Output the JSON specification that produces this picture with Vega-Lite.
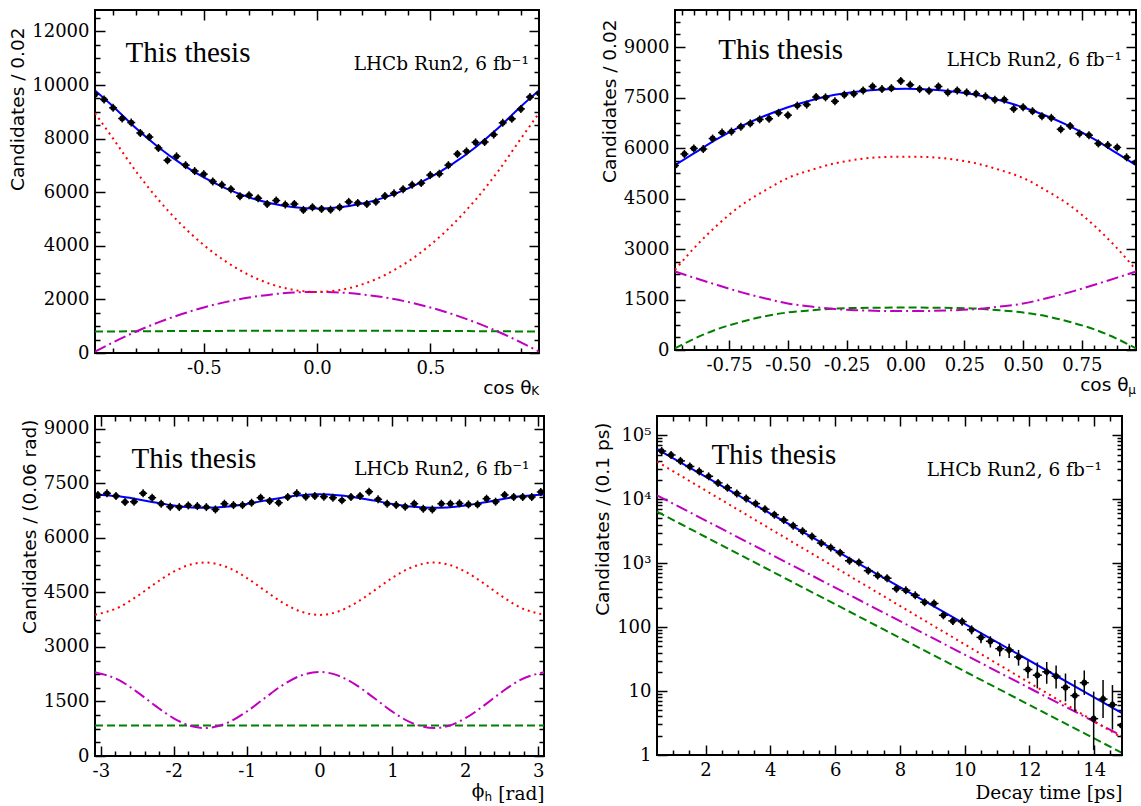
{
"$schema": "https://vega.github.io/schema/vega-lite/v6.json",
"padding": {"left": 7, "top": 8, "right": 5, "bottom": 5},
"background": "white",
"spacing": 16,
"config": {
  "view": {"stroke": "black", "strokeWidth": 2},
  "axis": {"domain": false, "grid": false, "labelFont": "DejaVu Serif", "labelFontSize": 18, "labelColor": "black", "tickColor": "black", "tickWidth": 1.5, "titleFont": "DejaVu Sans", "titleFontSize": 18.5, "titleFontWeight": "normal", "titleColor": "black", "labelFlush": false, "labelOverlap": false, "labelBound": false, "labelPadding": 16, "titlePadding": 4},
  "text": {"color": "black"}
},
"datasets": {
  "p1": [{"x":-0.98,"y":9650},{"x":-0.94,"y":9460},{"x":-0.90,"y":9150},{"x":-0.86,"y":8750},{"x":-0.82,"y":8600},{"x":-0.78,"y":8210},{"x":-0.74,"y":8060},{"x":-0.70,"y":7650},{"x":-0.66,"y":7190},{"x":-0.62,"y":7340},{"x":-0.58,"y":7010},{"x":-0.54,"y":6790},{"x":-0.50,"y":6675},{"x":-0.46,"y":6400},{"x":-0.42,"y":6275},{"x":-0.38,"y":6110},{"x":-0.34,"y":5850},{"x":-0.30,"y":5890},{"x":-0.26,"y":5775},{"x":-0.22,"y":5560},{"x":-0.18,"y":5690},{"x":-0.14,"y":5540},{"x":-0.10,"y":5560},{"x":-0.06,"y":5340},{"x":-0.02,"y":5440},{"x":0.02,"y":5375},{"x":0.06,"y":5350},{"x":0.10,"y":5440},{"x":0.14,"y":5640},{"x":0.18,"y":5600},{"x":0.22,"y":5560},{"x":0.26,"y":5640},{"x":0.30,"y":5860},{"x":0.34,"y":5960},{"x":0.38,"y":6110},{"x":0.42,"y":6275},{"x":0.46,"y":6340},{"x":0.50,"y":6640},{"x":0.54,"y":6690},{"x":0.58,"y":7010},{"x":0.62,"y":7425},{"x":0.66,"y":7525},{"x":0.70,"y":7860},{"x":0.74,"y":7875},{"x":0.78,"y":8150},{"x":0.82,"y":8590},{"x":0.86,"y":8740},{"x":0.90,"y":9110},{"x":0.94,"y":9550},{"x":0.98,"y":9690}],
  "f1": [{"x":-0.98,"t":9800,"r":8950,"m":50,"g":800},{"x":-0.9,"t":9203,"r":8000,"m":398,"g":805},{"x":-0.8,"t":8393,"r":6790,"m":793,"g":810},{"x":-0.7,"t":7677,"r":5720,"m":1142,"g":815},{"x":-0.6,"t":7064,"r":4800,"m":1444,"g":820},{"x":-0.5,"t":6553,"r":4030,"m":1700,"g":823},{"x":-0.4,"t":6134,"r":3400,"m":1908,"g":826},{"x":-0.3,"t":5809,"r":2910,"m":2071,"g":828},{"x":-0.2,"t":5577,"r":2560,"m":2187,"g":830},{"x":-0.1,"t":5438,"r":2350,"m":2257,"g":831},{"x":0,"t":5391,"r":2280,"m":2280,"g":831},{"x":0.1,"t":5438,"r":2350,"m":2257,"g":831},{"x":0.2,"t":5577,"r":2560,"m":2187,"g":830},{"x":0.3,"t":5809,"r":2910,"m":2071,"g":828},{"x":0.4,"t":6134,"r":3400,"m":1908,"g":826},{"x":0.5,"t":6553,"r":4030,"m":1700,"g":823},{"x":0.6,"t":7064,"r":4800,"m":1444,"g":820},{"x":0.7,"t":7677,"r":5720,"m":1142,"g":815},{"x":0.8,"t":8393,"r":6790,"m":793,"g":810},{"x":0.9,"t":9203,"r":8000,"m":398,"g":805},{"x":0.98,"t":9800,"r":8950,"m":50,"g":800}],
  "p2": [{"x":-0.98,"y":5480},{"x":-0.94,"y":5822},{"x":-0.90,"y":5988},{"x":-0.86,"y":5969},{"x":-0.82,"y":6282},{"x":-0.78,"y":6458},{"x":-0.74,"y":6488},{"x":-0.70,"y":6634},{"x":-0.66,"y":6732},{"x":-0.62,"y":6850},{"x":-0.58,"y":6869},{"x":-0.54,"y":7045},{"x":-0.50,"y":6976},{"x":-0.46,"y":7260},{"x":-0.42,"y":7290},{"x":-0.38,"y":7515},{"x":-0.34,"y":7505},{"x":-0.30,"y":7388},{"x":-0.26,"y":7583},{"x":-0.22,"y":7613},{"x":-0.18,"y":7710},{"x":-0.14,"y":7828},{"x":-0.10,"y":7750},{"x":-0.06,"y":7779},{"x":-0.02,"y":7994},{"x":0.02,"y":7877},{"x":0.06,"y":7750},{"x":0.10,"y":7700},{"x":0.14,"y":7828},{"x":0.18,"y":7652},{"x":0.22,"y":7710},{"x":0.26,"y":7652},{"x":0.30,"y":7613},{"x":0.34,"y":7535},{"x":0.38,"y":7437},{"x":0.42,"y":7437},{"x":0.46,"y":7163},{"x":0.50,"y":7212},{"x":0.54,"y":7094},{"x":0.58,"y":6947},{"x":0.62,"y":6898},{"x":0.66,"y":6556},{"x":0.70,"y":6654},{"x":0.74,"y":6429},{"x":0.78,"y":6380},{"x":0.82,"y":6135},{"x":0.86,"y":6086},{"x":0.90,"y":6018},{"x":0.94,"y":5724},{"x":0.98,"y":5577}],
  "f2": [{"x":-0.98,"t":5490,"r":2380,"m":2330,"g":50},{"x":-0.9,"t":5840,"r":3020,"m":2150,"g":330},{"x":-0.8,"t":6270,"r":3710,"m":1930,"g":620},{"x":-0.7,"t":6640,"r":4290,"m":1720,"g":830},{"x":-0.6,"t":6950,"r":4730,"m":1540,"g":1000},{"x":-0.5,"t":7210,"r":5110,"m":1380,"g":1115},{"x":-0.4,"t":7420,"r":5350,"m":1290,"g":1180},{"x":-0.3,"t":7580,"r":5545,"m":1215,"g":1230},{"x":-0.2,"t":7680,"r":5665,"m":1180,"g":1250},{"x":-0.1,"t":7740,"r":5730,"m":1160,"g":1258},{"x":0,"t":7760,"r":5744,"m":1155,"g":1262},{"x":0.1,"t":7740,"r":5730,"m":1160,"g":1258},{"x":0.2,"t":7680,"r":5665,"m":1180,"g":1250},{"x":0.3,"t":7580,"r":5545,"m":1215,"g":1230},{"x":0.4,"t":7420,"r":5350,"m":1290,"g":1180},{"x":0.5,"t":7210,"r":5110,"m":1380,"g":1115},{"x":0.6,"t":6950,"r":4730,"m":1540,"g":1000},{"x":0.7,"t":6640,"r":4290,"m":1720,"g":830},{"x":0.8,"t":6270,"r":3710,"m":1930,"g":620},{"x":0.9,"t":5840,"r":3020,"m":2150,"g":330},{"x":0.98,"t":5490,"r":2380,"m":2330,"g":50}],
  "p3": [{"x":-3.04,"y":7178},{"x":-2.916,"y":7224},{"x":-2.792,"y":7150},{"x":-2.668,"y":6984},{"x":-2.544,"y":6993},{"x":-2.42,"y":7224},{"x":-2.296,"y":7104},{"x":-2.172,"y":6938},{"x":-2.048,"y":6854},{"x":-1.924,"y":6845},{"x":-1.8,"y":6891},{"x":-1.676,"y":6873},{"x":-1.552,"y":6845},{"x":-1.428,"y":6780},{"x":-1.304,"y":6938},{"x":-1.18,"y":6900},{"x":-1.056,"y":6900},{"x":-0.932,"y":6965},{"x":-0.808,"y":7104},{"x":-0.684,"y":7012},{"x":-0.56,"y":6965},{"x":-0.436,"y":7123},{"x":-0.312,"y":7224},{"x":-0.188,"y":7132},{"x":-0.064,"y":7150},{"x":0.06,"y":7132},{"x":0.184,"y":7104},{"x":0.308,"y":7030},{"x":0.432,"y":7123},{"x":0.556,"y":7150},{"x":0.68,"y":7270},{"x":0.804,"y":7058},{"x":0.928,"y":6938},{"x":1.052,"y":6900},{"x":1.176,"y":6854},{"x":1.3,"y":6938},{"x":1.424,"y":6799},{"x":1.548,"y":6780},{"x":1.672,"y":6938},{"x":1.796,"y":6938},{"x":1.92,"y":6947},{"x":2.044,"y":6919},{"x":2.168,"y":6919},{"x":2.292,"y":7076},{"x":2.416,"y":6993},{"x":2.54,"y":7178},{"x":2.664,"y":7123},{"x":2.788,"y":7123},{"x":2.912,"y":7123},{"x":3.036,"y":7261}],
  "f3": [{"x":-3.08,"t":7194,"r":3885,"m":2304,"g":840},{"x":-2.75,"t":7141,"r":4090,"m":2086,"g":840},{"x":-2.5,"t":7062,"r":4396,"m":1758,"g":840},{"x":-2.25,"t":6971,"r":4752,"m":1378,"g":840},{"x":-2.0,"t":6889,"r":5071,"m":1037,"g":840},{"x":-1.75,"t":6837,"r":5274,"m":819,"g":840},{"x":-1.57,"t":6825,"r":5320,"m":770,"g":840},{"x":-1.25,"t":6862,"r":5177,"m":923,"g":840},{"x":-1.0,"t":6933,"r":4900,"m":1220,"g":840},{"x":-0.75,"t":7023,"r":4549,"m":1594,"g":840},{"x":-0.5,"t":7110,"r":4211,"m":1956,"g":840},{"x":-0.25,"t":7172,"r":3968,"m":2216,"g":840},{"x":0,"t":7195,"r":3880,"m":2310,"g":840},{"x":0.25,"t":7172,"r":3968,"m":2216,"g":840},{"x":0.5,"t":7110,"r":4211,"m":1956,"g":840},{"x":0.75,"t":7023,"r":4549,"m":1594,"g":840},{"x":1.0,"t":6933,"r":4900,"m":1220,"g":840},{"x":1.25,"t":6862,"r":5177,"m":923,"g":840},{"x":1.57,"t":6825,"r":5320,"m":770,"g":840},{"x":1.75,"t":6837,"r":5274,"m":819,"g":840},{"x":2.0,"t":6889,"r":5071,"m":1037,"g":840},{"x":2.25,"t":6971,"r":4752,"m":1378,"g":840},{"x":2.5,"t":7062,"r":4396,"m":1758,"g":840},{"x":2.75,"t":7141,"r":4090,"m":2086,"g":840},{"x":3.08,"t":7194,"r":3885,"m":2304,"g":840}],
  "p4": [{"x":0.645,"y":56600},{"x":0.935,"y":49200},{"x":1.225,"y":39700},{"x":1.515,"y":32500},{"x":1.805,"y":27200},{"x":2.095,"y":22800},{"x":2.385,"y":18000},{"x":2.675,"y":15100},{"x":2.965,"y":12300},{"x":3.255,"y":10300},{"x":3.545,"y":8530},{"x":3.835,"y":6980},{"x":4.125,"y":5710},{"x":4.415,"y":4720},{"x":4.705,"y":3860},{"x":4.995,"y":3160},{"x":5.285,"y":2610},{"x":5.575,"y":2060},{"x":5.865,"y":1750},{"x":6.155,"y":1460},{"x":6.445,"y":1090},{"x":6.735,"y":1026},{"x":7.025,"y":763},{"x":7.315,"y":640},{"x":7.605,"y":582},{"x":7.895,"y":398},{"x":8.185,"y":376},{"x":8.475,"y":314},{"x":8.765,"y":245},{"x":9.055,"y":234},{"x":9.345,"y":153,"lo":135,"hi":172},{"x":9.635,"y":125,"lo":108,"hi":142},{"x":9.925,"y":122,"lo":106,"hi":139},{"x":10.215,"y":91,"lo":77,"hi":106},{"x":10.505,"y":69,"lo":56,"hi":82},{"x":10.795,"y":60,"lo":48,"hi":72},{"x":11.085,"y":46,"lo":35,"hi":57},{"x":11.375,"y":44,"lo":33,"hi":55},{"x":11.665,"y":34,"lo":25,"hi":44},{"x":11.955,"y":21.7,"lo":15.8,"hi":30},{"x":12.245,"y":17.7,"lo":11,"hi":28},{"x":12.535,"y":20,"lo":13,"hi":28.5},{"x":12.825,"y":17.1,"lo":11,"hi":25},{"x":13.115,"y":11.4,"lo":6.9,"hi":18.8},{"x":13.405,"y":8.5,"lo":4.8,"hi":14.9},{"x":13.695,"y":13.5,"lo":8.7,"hi":21},{"x":13.985,"y":3.7,"lo":1.2,"hi":9.8},{"x":14.275,"y":7.5,"lo":3.8,"hi":14.9},{"x":14.565,"y":6.1,"lo":2.5,"hi":12.4},{"x":14.855,"y":2.9,"lo":1,"hi":7}],
  "f4": [{"x":0.5,"t":60700,"r":38700,"m":11500,"g":6380},{"x":7.5,"t":589,"r":304,"m":168,"g":92},{"x":14.86,"t":4.5,"r":1.86,"m":1.98,"g":1.08}]
},
"vconcat": [
 {"hconcat": [
  {"width": 444, "height": 343,
   "resolve": {"axis": {"x": "independent", "y": "independent"}},
   "layer": [
    {"data": {"name": "f1"}, "mark": {"type": "line", "stroke": "#008000", "strokeWidth": 2, "strokeDash": [8, 4], "interpolate": "monotone", "clip": true},
     "encoding": {
      "x": {"field": "x", "type": "quantitative", "scale": {"domain": [-0.98, 0.98], "nice": false, "zero": false},
        "axis": {"orient": "bottom", "values": [-0.9,-0.8,-0.7,-0.6,-0.5,-0.4,-0.3,-0.2,-0.1,0,0.1,0.2,0.3,0.4,0.5,0.6,0.7,0.8,0.9],
          "labelExpr": "abs(datum.value*2-round(datum.value*2))<0.001 ? replace(format(datum.value,'.1f'),'−','-') : ''",
          "tickSize": {"condition": {"test": "abs(datum.value*2-round(datum.value*2))<0.001", "value": -10}, "value": -5},
          "title": "cos θ", "titleFont": "DejaVu Sans", "titlePadding": -4, "titleAnchor": "end", "titleAlign": "right", "titleX": 436}},
      "y": {"field": "g", "type": "quantitative", "scale": {"domain": [0, 12800], "nice": false, "zero": false},
        "axis": {"orient": "left", "values": [0,500,1000,1500,2000,2500,3000,3500,4000,4500,5000,5500,6000,6500,7000,7500,8000,8500,9000,9500,10000,10500,11000,11500,12000,12500],
          "labelExpr": "datum.value%2000==0 ? format(datum.value,'d') : ''",
          "tickSize": {"condition": {"test": "datum.value%2000==0", "value": -10}, "value": -5},
          "title": "Candidates / 0.02", "titleAnchor": "end", "titleAlign": "right", "titleY": 17}}
     }},
    {"data": {"name": "f1"}, "mark": {"type": "line", "stroke": "#bf00bf", "strokeWidth": 2, "strokeDash": [12, 4, 2, 4], "interpolate": "monotone", "clip": true},
     "encoding": {
      "x": {"field": "x", "type": "quantitative",
        "axis": {"orient": "top", "values": [-0.9,-0.8,-0.7,-0.6,-0.5,-0.4,-0.3,-0.2,-0.1,0,0.1,0.2,0.3,0.4,0.5,0.6,0.7,0.8,0.9], "labels": false, "title": null,
          "tickSize": {"condition": {"test": "abs(datum.value*2-round(datum.value*2))<0.001", "value": -10}, "value": -5}}},
      "y": {"field": "m", "type": "quantitative",
        "axis": {"orient": "right", "values": [0,500,1000,1500,2000,2500,3000,3500,4000,4500,5000,5500,6000,6500,7000,7500,8000,8500,9000,9500,10000,10500,11000,11500,12000,12500], "labels": false, "title": null,
          "tickSize": {"condition": {"test": "datum.value%2000==0", "value": -10}, "value": -5}}}
     }},
    {"data": {"name": "f1"}, "mark": {"type": "line", "stroke": "#ff0000", "strokeWidth": 2, "strokeDash": [2, 4], "interpolate": "monotone", "clip": true},
     "encoding": {"x": {"field": "x", "type": "quantitative", "axis": null}, "y": {"field": "r", "type": "quantitative", "axis": null}}},
    {"data": {"name": "f1"}, "mark": {"type": "line", "stroke": "#0000ff", "strokeWidth": 2, "interpolate": "monotone", "clip": true},
     "encoding": {"x": {"field": "x", "type": "quantitative", "axis": null}, "y": {"field": "t", "type": "quantitative", "axis": null}}},
    {"data": {"name": "p1"}, "mark": {"type": "point", "shape": "stroke", "size": 64, "stroke": "black", "strokeWidth": 1.5, "opacity": 1, "clip": true},
     "encoding": {"x": {"field": "x", "type": "quantitative", "axis": null}, "y": {"field": "y", "type": "quantitative", "axis": null}}},
    {"data": {"name": "p1"}, "mark": {"type": "point", "shape": "M0,-1L0,1", "size": 64, "stroke": "black", "strokeWidth": 1.5, "opacity": 1, "clip": true},
     "encoding": {"x": {"field": "x", "type": "quantitative", "axis": null}, "y": {"field": "y", "type": "quantitative", "axis": null}}},
    {"data": {"name": "p1"}, "mark": {"type": "circle", "size": 34, "fill": "black", "opacity": 1, "clip": true},
     "encoding": {"x": {"field": "x", "type": "quantitative", "axis": null}, "y": {"field": "y", "type": "quantitative", "axis": null}}},
    {"data": {"values": [{"t": "This thesis"}]}, "mark": {"type": "text", "font": "Liberation Serif", "fontSize": 29, "align": "left", "baseline": "alphabetic"},
     "encoding": {"text": {"field": "t"}, "x": {"datum": -0.845, "type": "quantitative", "axis": null}, "y": {"datum": 10870, "type": "quantitative", "axis": null}}},
    {"data": {"values": [{"t": "LHCb Run2, 6 fb⁻¹"}]}, "mark": {"type": "text", "font": "DejaVu Serif", "fontSize": 18.5, "align": "right", "baseline": "alphabetic"},
     "encoding": {"text": {"field": "t"}, "x": {"datum": 0.935, "type": "quantitative", "axis": null}, "y": {"datum": 10550, "type": "quantitative", "axis": null}}},
    {"data": {"values": [{"t": "K"}]}, "mark": {"type": "text", "font": "DejaVu Sans", "fontSize": 12, "align": "right", "baseline": "alphabetic"},
     "encoding": {"text": {"field": "t"}, "x": {"datum": 0.98, "type": "quantitative", "axis": null}, "y": {"datum": -1565, "type": "quantitative", "axis": null}}}
   ]},
  {"width": 461, "height": 340,
   "resolve": {"axis": {"x": "independent", "y": "independent"}},
   "layer": [
    {"data": {"name": "f2"}, "mark": {"type": "line", "stroke": "#008000", "strokeWidth": 2, "strokeDash": [8, 4], "interpolate": "monotone", "clip": true},
     "encoding": {
      "x": {"field": "x", "type": "quantitative", "scale": {"domain": [-0.98, 0.98], "nice": false, "zero": false},
        "axis": {"orient": "bottom", "values": [-0.95,-0.9,-0.85,-0.8,-0.75,-0.7,-0.65,-0.6,-0.55,-0.5,-0.45,-0.4,-0.35,-0.3,-0.25,-0.2,-0.15,-0.1,-0.05,0,0.05,0.1,0.15,0.2,0.25,0.3,0.35,0.4,0.45,0.5,0.55,0.6,0.65,0.7,0.75,0.8,0.85,0.9,0.95],
          "labelExpr": "abs(datum.value*4-round(datum.value*4))<0.001 ? replace(format(datum.value,'.2f'),'−','-') : ''",
          "tickSize": {"condition": {"test": "abs(datum.value*4-round(datum.value*4))<0.001", "value": -10}, "value": -5},
          "title": "cos θ", "titleFont": "DejaVu Sans", "titlePadding": -4, "titleAnchor": "end", "titleAlign": "right", "titleX": 453}},
      "y": {"field": "g", "type": "quantitative", "scale": {"domain": [0, 10100], "nice": false, "zero": false},
        "axis": {"orient": "left", "values": [0,375,750,1125,1500,1875,2250,2625,3000,3375,3750,4125,4500,4875,5250,5625,6000,6375,6750,7125,7500,7875,8250,8625,9000,9375,9750],
          "labelExpr": "datum.value%1500==0 ? format(datum.value,'d') : ''",
          "tickSize": {"condition": {"test": "datum.value%1500==0", "value": -10}, "value": -5},
          "title": "Candidates / 0.02", "titleAnchor": "end", "titleAlign": "right", "titleY": 9}}
     }},
    {"data": {"name": "f2"}, "mark": {"type": "line", "stroke": "#bf00bf", "strokeWidth": 2, "strokeDash": [12, 4, 2, 4], "interpolate": "monotone", "clip": true},
     "encoding": {
      "x": {"field": "x", "type": "quantitative",
        "axis": {"orient": "top", "values": [-0.95,-0.9,-0.85,-0.8,-0.75,-0.7,-0.65,-0.6,-0.55,-0.5,-0.45,-0.4,-0.35,-0.3,-0.25,-0.2,-0.15,-0.1,-0.05,0,0.05,0.1,0.15,0.2,0.25,0.3,0.35,0.4,0.45,0.5,0.55,0.6,0.65,0.7,0.75,0.8,0.85,0.9,0.95], "labels": false, "title": null,
          "tickSize": {"condition": {"test": "abs(datum.value*4-round(datum.value*4))<0.001", "value": -10}, "value": -5}}},
      "y": {"field": "m", "type": "quantitative",
        "axis": {"orient": "right", "values": [0,375,750,1125,1500,1875,2250,2625,3000,3375,3750,4125,4500,4875,5250,5625,6000,6375,6750,7125,7500,7875,8250,8625,9000,9375,9750], "labels": false, "title": null,
          "tickSize": {"condition": {"test": "datum.value%1500==0", "value": -10}, "value": -5}}}
     }},
    {"data": {"name": "f2"}, "mark": {"type": "line", "stroke": "#ff0000", "strokeWidth": 2, "strokeDash": [2, 4], "interpolate": "monotone", "clip": true},
     "encoding": {"x": {"field": "x", "type": "quantitative", "axis": null}, "y": {"field": "r", "type": "quantitative", "axis": null}}},
    {"data": {"name": "f2"}, "mark": {"type": "line", "stroke": "#0000ff", "strokeWidth": 2, "interpolate": "monotone", "clip": true},
     "encoding": {"x": {"field": "x", "type": "quantitative", "axis": null}, "y": {"field": "t", "type": "quantitative", "axis": null}}},
    {"data": {"name": "p2"}, "mark": {"type": "point", "shape": "stroke", "size": 64, "stroke": "black", "strokeWidth": 1.5, "opacity": 1, "clip": true},
     "encoding": {"x": {"field": "x", "type": "quantitative", "axis": null}, "y": {"field": "y", "type": "quantitative", "axis": null}}},
    {"data": {"name": "p2"}, "mark": {"type": "point", "shape": "M0,-1L0,1", "size": 64, "stroke": "black", "strokeWidth": 1.5, "opacity": 1, "clip": true},
     "encoding": {"x": {"field": "x", "type": "quantitative", "axis": null}, "y": {"field": "y", "type": "quantitative", "axis": null}}},
    {"data": {"name": "p2"}, "mark": {"type": "circle", "size": 34, "fill": "black", "opacity": 1, "clip": true},
     "encoding": {"x": {"field": "x", "type": "quantitative", "axis": null}, "y": {"field": "y", "type": "quantitative", "axis": null}}},
    {"data": {"values": [{"t": "This thesis"}]}, "mark": {"type": "text", "font": "Liberation Serif", "fontSize": 29, "align": "left", "baseline": "alphabetic"},
     "encoding": {"text": {"field": "t"}, "x": {"datum": -0.796, "type": "quantitative", "axis": null}, "y": {"datum": 8648, "type": "quantitative", "axis": null}}},
    {"data": {"values": [{"t": "LHCb Run2, 6 fb⁻¹"}]}, "mark": {"type": "text", "font": "DejaVu Serif", "fontSize": 18.5, "align": "right", "baseline": "alphabetic"},
     "encoding": {"text": {"field": "t"}, "x": {"datum": 0.92, "type": "quantitative", "axis": null}, "y": {"datum": 8437, "type": "quantitative", "axis": null}}},
    {"data": {"values": [{"t": "μ"}]}, "mark": {"type": "text", "font": "DejaVu Sans", "fontSize": 12, "align": "right", "baseline": "alphabetic"},
     "encoding": {"text": {"field": "t"}, "x": {"datum": 0.98, "type": "quantitative", "axis": null}, "y": {"datum": -1307, "type": "quantitative", "axis": null}}}
   ]}
 ], "spacing": 136, "bounds": "flush"},
 {"hconcat": [
  {"width": 449, "height": 340,
   "resolve": {"axis": {"x": "independent", "y": "independent"}},
   "layer": [
    {"data": {"name": "f3"}, "mark": {"type": "line", "stroke": "#008000", "strokeWidth": 2, "strokeDash": [8, 4], "interpolate": "monotone", "clip": true},
     "encoding": {
      "x": {"field": "x", "type": "quantitative", "scale": {"domain": [-3.08, 3.08], "nice": false, "zero": false},
        "axis": {"orient": "bottom", "values": [-3,-2.8,-2.6,-2.4,-2.2,-2,-1.8,-1.6,-1.4,-1.2,-1,-0.8,-0.6,-0.4,-0.2,0,0.2,0.4,0.6,0.8,1,1.2,1.4,1.6,1.8,2,2.2,2.4,2.6,2.8,3],
          "labelExpr": "abs(datum.value-round(datum.value))<0.001 ? replace(format(round(datum.value),'d'),'−','-') : ''",
          "tickSize": {"condition": {"test": "abs(datum.value-round(datum.value))<0.001", "value": -10}, "value": -5},
          "title": "[rad]", "titleFont": "DejaVu Serif", "titlePadding": -1, "titleAnchor": "end"}},
      "y": {"field": "g", "type": "quantitative", "scale": {"domain": [0, 9350], "nice": false, "zero": false},
        "axis": {"orient": "left", "values": [0,375,750,1125,1500,1875,2250,2625,3000,3375,3750,4125,4500,4875,5250,5625,6000,6375,6750,7125,7500,7875,8250,8625,9000],
          "labelExpr": "datum.value%1500==0 ? format(datum.value,'d') : ''",
          "tickSize": {"condition": {"test": "datum.value%1500==0", "value": -10}, "value": -5},
          "title": "Candidates / (0.06 rad)", "titleAnchor": "end", "titleAlign": "right", "titleY": 3}}
     }},
    {"data": {"name": "f3"}, "mark": {"type": "line", "stroke": "#bf00bf", "strokeWidth": 2, "strokeDash": [12, 4, 2, 4], "interpolate": "monotone", "clip": true},
     "encoding": {
      "x": {"field": "x", "type": "quantitative",
        "axis": {"orient": "top", "values": [-3,-2.8,-2.6,-2.4,-2.2,-2,-1.8,-1.6,-1.4,-1.2,-1,-0.8,-0.6,-0.4,-0.2,0,0.2,0.4,0.6,0.8,1,1.2,1.4,1.6,1.8,2,2.2,2.4,2.6,2.8,3], "labels": false, "title": null,
          "tickSize": {"condition": {"test": "abs(datum.value-round(datum.value))<0.001", "value": -10}, "value": -5}}},
      "y": {"field": "m", "type": "quantitative",
        "axis": {"orient": "right", "values": [0,375,750,1125,1500,1875,2250,2625,3000,3375,3750,4125,4500,4875,5250,5625,6000,6375,6750,7125,7500,7875,8250,8625,9000], "labels": false, "title": null,
          "tickSize": {"condition": {"test": "datum.value%1500==0", "value": -10}, "value": -5}}}
     }},
    {"data": {"name": "f3"}, "mark": {"type": "line", "stroke": "#ff0000", "strokeWidth": 2, "strokeDash": [2, 4], "interpolate": "monotone", "clip": true},
     "encoding": {"x": {"field": "x", "type": "quantitative", "axis": null}, "y": {"field": "r", "type": "quantitative", "axis": null}}},
    {"data": {"name": "f3"}, "mark": {"type": "line", "stroke": "#0000ff", "strokeWidth": 2, "interpolate": "monotone", "clip": true},
     "encoding": {"x": {"field": "x", "type": "quantitative", "axis": null}, "y": {"field": "t", "type": "quantitative", "axis": null}}},
    {"data": {"name": "p3"}, "mark": {"type": "point", "shape": "stroke", "size": 64, "stroke": "black", "strokeWidth": 1.5, "opacity": 1, "clip": true},
     "encoding": {"x": {"field": "x", "type": "quantitative", "axis": null}, "y": {"field": "y", "type": "quantitative", "axis": null}}},
    {"data": {"name": "p3"}, "mark": {"type": "point", "shape": "M0,-1L0,1", "size": 64, "stroke": "black", "strokeWidth": 1.5, "opacity": 1, "clip": true},
     "encoding": {"x": {"field": "x", "type": "quantitative", "axis": null}, "y": {"field": "y", "type": "quantitative", "axis": null}}},
    {"data": {"name": "p3"}, "mark": {"type": "circle", "size": 34, "fill": "black", "opacity": 1, "clip": true},
     "encoding": {"x": {"field": "x", "type": "quantitative", "axis": null}, "y": {"field": "y", "type": "quantitative", "axis": null}}},
    {"data": {"values": [{"t": "This thesis"}]}, "mark": {"type": "text", "font": "Liberation Serif", "fontSize": 29, "align": "left", "baseline": "alphabetic"},
     "encoding": {"text": {"field": "t"}, "x": {"datum": -2.58, "type": "quantitative", "axis": null}, "y": {"datum": 7912, "type": "quantitative", "axis": null}}},
    {"data": {"values": [{"t": "LHCb Run2, 6 fb⁻¹"}]}, "mark": {"type": "text", "font": "DejaVu Serif", "fontSize": 18.5, "align": "right", "baseline": "alphabetic"},
     "encoding": {"text": {"field": "t"}, "x": {"datum": 2.88, "type": "quantitative", "axis": null}, "y": {"datum": 7740, "type": "quantitative", "axis": null}}},
    {"data": {"values": [{"t": "ϕ"}]}, "mark": {"type": "text", "font": "DejaVu Serif", "fontSize": 18.5, "align": "right", "baseline": "alphabetic"},
     "encoding": {"text": {"field": "t"}, "x": {"datum": 2.263, "type": "quantitative", "axis": null}, "y": {"datum": -1141, "type": "quantitative", "axis": null}}},
    {"data": {"values": [{"t": "h"}]}, "mark": {"type": "text", "font": "DejaVu Sans", "fontSize": 12, "align": "right", "baseline": "alphabetic"},
     "encoding": {"text": {"field": "t"}, "x": {"datum": 2.367, "type": "quantitative", "axis": null}, "y": {"datum": -1224, "type": "quantitative", "axis": null}}}
   ]},
  {"width": 465, "height": 339,
   "resolve": {"axis": {"x": "independent", "y": "independent"}},
   "layer": [
    {"data": {"name": "f4"}, "mark": {"type": "line", "stroke": "#008000", "strokeWidth": 2, "strokeDash": [8, 4], "clip": true},
     "encoding": {
      "x": {"field": "x", "type": "quantitative", "scale": {"domain": [0.5, 14.86], "nice": false, "zero": false},
        "axis": {"orient": "bottom", "values": [1,1.5,2,2.5,3,3.5,4,4.5,5,5.5,6,6.5,7,7.5,8,8.5,9,9.5,10,10.5,11,11.5,12,12.5,13,13.5,14,14.5],
          "labelExpr": "datum.value%2==0 ? format(datum.value,'d') : ''",
          "tickSize": {"condition": {"test": "datum.value%2==0", "value": -10}, "value": -5},
          "title": "Decay time [ps]", "titleFont": "DejaVu Serif", "titlePadding": -1, "titleAnchor": "end"}},
      "y": {"field": "g", "type": "quantitative", "scale": {"type": "log", "domain": [1, 200000], "nice": false, "zero": false},
        "axis": {"orient": "left", "values": [1,2,3,4,5,6,7,8,9,10,20,30,40,50,60,70,80,90,100,200,300,400,500,600,700,800,900,1000,2000,3000,4000,5000,6000,7000,8000,9000,10000,20000,30000,40000,50000,60000,70000,80000,90000,100000],
          "labelExpr": "abs(log(datum.value)/LN10-round(log(datum.value)/LN10))<0.001 ? (datum.value<1000 ? format(datum.value,'d') : datum.value==1000 ? '10³' : datum.value==10000 ? '10⁴' : '10⁵') : ''",
          "tickSize": {"condition": {"test": "abs(log(datum.value)/LN10-round(log(datum.value)/LN10))<0.001", "value": -10}, "value": -5},
          "title": "Candidates / (0.1 ps)", "titleAnchor": "end", "titleAlign": "right", "titleY": 6}}
     }},
    {"data": {"name": "f4"}, "mark": {"type": "line", "stroke": "#bf00bf", "strokeWidth": 2, "strokeDash": [12, 4, 2, 4], "clip": true},
     "encoding": {
      "x": {"field": "x", "type": "quantitative",
        "axis": {"orient": "top", "values": [1,1.5,2,2.5,3,3.5,4,4.5,5,5.5,6,6.5,7,7.5,8,8.5,9,9.5,10,10.5,11,11.5,12,12.5,13,13.5,14,14.5], "labels": false, "title": null,
          "tickSize": {"condition": {"test": "datum.value%2==0", "value": -10}, "value": -5}}},
      "y": {"field": "m", "type": "quantitative",
        "axis": {"orient": "right", "values": [1,2,3,4,5,6,7,8,9,10,20,30,40,50,60,70,80,90,100,200,300,400,500,600,700,800,900,1000,2000,3000,4000,5000,6000,7000,8000,9000,10000,20000,30000,40000,50000,60000,70000,80000,90000,100000], "labels": false, "title": null,
          "tickSize": {"condition": {"test": "abs(log(datum.value)/LN10-round(log(datum.value)/LN10))<0.001", "value": -10}, "value": -5}}}
     }},
    {"data": {"name": "f4"}, "mark": {"type": "line", "stroke": "#ff0000", "strokeWidth": 2, "strokeDash": [2, 4], "clip": true},
     "encoding": {"x": {"field": "x", "type": "quantitative", "axis": null}, "y": {"field": "r", "type": "quantitative", "axis": null}}},
    {"data": {"name": "f4"}, "mark": {"type": "line", "stroke": "#0000ff", "strokeWidth": 2, "clip": true},
     "encoding": {"x": {"field": "x", "type": "quantitative", "axis": null}, "y": {"field": "t", "type": "quantitative", "axis": null}}},
    {"data": {"name": "p4"}, "mark": {"type": "rule", "stroke": "black", "strokeWidth": 1.5, "clip": true},
     "encoding": {"x": {"field": "x", "type": "quantitative", "axis": null}, "y": {"field": "lo", "type": "quantitative", "axis": null}, "y2": {"field": "hi"}}},
    {"data": {"name": "p4"}, "mark": {"type": "point", "shape": "stroke", "size": 81, "stroke": "black", "strokeWidth": 1.5, "opacity": 1, "clip": true},
     "encoding": {"x": {"field": "x", "type": "quantitative", "axis": null}, "y": {"field": "y", "type": "quantitative", "axis": null}}},
    {"data": {"name": "p4"}, "mark": {"type": "point", "shape": "M0,-1L0,1", "size": 64, "stroke": "black", "strokeWidth": 1.5, "opacity": 1, "clip": true},
     "encoding": {"x": {"field": "x", "type": "quantitative", "axis": null}, "y": {"field": "y", "type": "quantitative", "axis": null}}},
    {"data": {"name": "p4"}, "mark": {"type": "circle", "size": 34, "fill": "black", "opacity": 1, "clip": true},
     "encoding": {"x": {"field": "x", "type": "quantitative", "axis": null}, "y": {"field": "y", "type": "quantitative", "axis": null}}},
    {"data": {"values": [{"t": "This thesis"}]}, "mark": {"type": "text", "font": "Liberation Serif", "fontSize": 29, "align": "left", "baseline": "alphabetic"},
     "encoding": {"text": {"field": "t"}, "x": {"datum": 2.18, "type": "quantitative", "axis": null}, "y": {"datum": 34950, "type": "quantitative", "axis": null}}},
    {"data": {"values": [{"t": "LHCb Run2, 6 fb⁻¹"}]}, "mark": {"type": "text", "font": "DejaVu Serif", "fontSize": 18.5, "align": "right", "baseline": "alphabetic"},
     "encoding": {"text": {"field": "t"}, "x": {"datum": 14.24, "type": "quantitative", "axis": null}, "y": {"datum": 22740, "type": "quantitative", "axis": null}}}
   ]}
 ], "spacing": 113, "bounds": "flush"}
]
}
